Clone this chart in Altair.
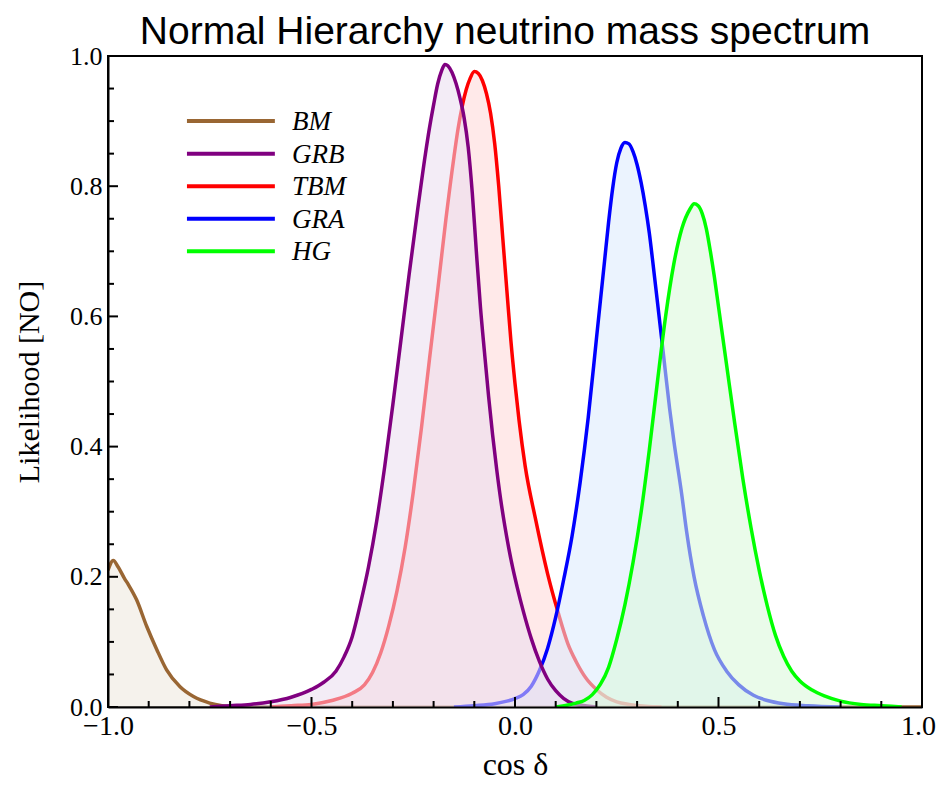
import altair as alt
import pandas as pd

# ---------------- data ----------------
names = ["BM", "GRB", "TBM", "GRA", "HG"]
line_colors = ["#996633", "#800080", "#ff0000", "#0000ff", "#00ff00"]
fill_colors = ["#ede7dd", "#e9dcef", "#ffd7d7", "#dbe9fd", "#d9f8d9"]

bm_x = [-1.0, -0.987, -0.975, -0.96, -0.95, -0.93, -0.905, -0.88, -0.856, -0.823,
        -0.79, -0.75, -0.72, -0.68, 1.0]
bm_y = [0.21, 0.225, 0.215, 0.198, 0.188, 0.165, 0.124, 0.088, 0.057, 0.031,
        0.016, 0.006, 0.002, 0.0, 0.0]

grb_x = [-0.75, -0.70, -0.65, -0.60, -0.55, -0.50, -0.47, -0.44, -0.42, -0.40,
         -0.38, -0.36, -0.34, -0.32, -0.30, -0.28, -0.26, -0.24, -0.22, -0.21,
         -0.20, -0.19, -0.18, -0.172, -0.165, -0.155, -0.145, -0.135, -0.125, -0.115,
         -0.105, -0.095, -0.085, -0.075, -0.065, -0.055, -0.045, -0.035, -0.025, -0.015,
         -0.005, 0.005, 0.02, 0.04, 0.06, 0.08, 0.10, 0.12, 0.14, 0.16, 0.20]
grb_y = [0.0, 0.002, 0.004, 0.008, 0.015, 0.027, 0.038, 0.055, 0.077, 0.108,
         0.158, 0.215, 0.285, 0.37, 0.465, 0.565, 0.665, 0.76, 0.85, 0.89,
         0.925, 0.957, 0.978, 0.987, 0.985, 0.975, 0.958, 0.935, 0.905, 0.86,
         0.79, 0.70, 0.615, 0.545, 0.478, 0.418, 0.365, 0.318, 0.278, 0.243,
         0.212, 0.185, 0.148, 0.105, 0.07, 0.043, 0.025, 0.013, 0.006, 0.003, 0.0]

tbm_x = [-0.60, -0.55, -0.50, -0.45, -0.40, -0.37, -0.35, -0.33, -0.31, -0.29,
         -0.27, -0.25, -0.23, -0.21, -0.19, -0.17, -0.15, -0.14, -0.13, -0.12,
         -0.11, -0.10, -0.09, -0.08, -0.07, -0.06, -0.05, -0.04, -0.03, -0.02,
         -0.01, 0.0, 0.01, 0.025, 0.05, 0.08, 0.106, 0.13, 0.15, 0.176,
         0.20, 0.225, 0.25, 0.28, 0.32, 0.36]
tbm_y = [0.0, 0.002, 0.004, 0.010, 0.021, 0.034, 0.053, 0.083, 0.125, 0.178,
         0.245, 0.33, 0.428, 0.535, 0.64, 0.748, 0.845, 0.888, 0.922, 0.948,
         0.966, 0.976, 0.973, 0.962, 0.942, 0.912, 0.866, 0.80, 0.72, 0.64,
         0.562, 0.497, 0.44, 0.37, 0.29, 0.205, 0.145, 0.097, 0.07, 0.043,
         0.027, 0.015, 0.008, 0.004, 0.001, 0.0]

gra_x = [-0.15, -0.10, -0.05, -0.02, 0.00, 0.02, 0.04, 0.06, 0.08, 0.10,
         0.12, 0.14, 0.16, 0.18, 0.20, 0.22, 0.23, 0.24, 0.25, 0.26,
         0.27, 0.28, 0.29, 0.30, 0.31, 0.32, 0.33, 0.34, 0.35, 0.365,
         0.38, 0.39, 0.41, 0.422, 0.44, 0.463, 0.49, 0.52, 0.55, 0.586,
         0.62, 0.66, 0.72, 0.80]
gra_y = [0.0, 0.002, 0.005, 0.009, 0.013, 0.019, 0.032, 0.056, 0.09, 0.138,
         0.197, 0.262, 0.345, 0.445, 0.565, 0.685, 0.745, 0.797, 0.836, 0.858,
         0.867, 0.865, 0.853, 0.833, 0.805, 0.77, 0.728, 0.676, 0.622, 0.54,
         0.458, 0.41, 0.325, 0.268, 0.20, 0.14, 0.088, 0.055, 0.034, 0.018,
         0.010, 0.005, 0.002, 0.0]

hg_x = [0.10, 0.13, 0.15, 0.17, 0.19, 0.21, 0.23, 0.25, 0.27, 0.29,
        0.31, 0.33, 0.35, 0.37, 0.39, 0.41, 0.43, 0.44, 0.45, 0.46,
        0.47, 0.48, 0.49, 0.50, 0.52, 0.54, 0.56, 0.58, 0.60, 0.62,
        0.64, 0.66, 0.68, 0.70, 0.73, 0.76, 0.80, 0.85, 0.90, 0.95]
hg_y = [0.0, 0.003, 0.006, 0.010, 0.019, 0.035, 0.061, 0.104, 0.157, 0.222,
        0.30, 0.395, 0.50, 0.60, 0.68, 0.735, 0.765, 0.773, 0.77, 0.758,
        0.735, 0.70, 0.66, 0.615, 0.525, 0.435, 0.35, 0.275, 0.21, 0.155,
        0.11, 0.078, 0.055, 0.04, 0.026, 0.017, 0.009, 0.004, 0.002, 0.0]

x_major = [-1.0, -0.5, 0.0, 0.5, 1.0]
x_minor = [-0.9, -0.8, -0.7, -0.6, -0.4, -0.3, -0.2, -0.1,
           0.1, 0.2, 0.3, 0.4, 0.6, 0.7, 0.8, 0.9]
y_major = [0.0, 0.2, 0.4, 0.6, 0.8, 1.0]
y_minor = [0.05, 0.1, 0.15, 0.25, 0.3, 0.35, 0.45, 0.5, 0.55,
           0.65, 0.7, 0.75, 0.85, 0.9, 0.95]

title_text = "Normal Hierarchy neutrino mass spectrum"
x_title = "cos δ"
y_title = "Likelihood [NO]"

# ---------------- chart ----------------
W, H = 814, 651
SERIF = "Liberation Serif"

x_scale = alt.Scale(domain=[-1, 1], nice=False, zero=False)
y_scale = alt.Scale(domain=[0, 1], nice=False)

x_axis = alt.Axis(values=x_major, format=".1f", title=x_title, ticks=False, tickSize=0,
                  grid=False, domainColor="black", domainWidth=2, labelFlush=False,
                  labelOffset={"condition": {"test": "datum.value >= 1", "value": -4},
                               "value": 0},
                  labelFont=SERIF, labelFontSize=28, labelPadding=5, labelColor="black",
                  titleFont=SERIF, titleFontSize=32, titleFontWeight="normal",
                  titleColor="black", titlePadding=9, zindex=1)
y_axis = alt.Axis(values=y_major, format=".1f", title=y_title, ticks=False, tickSize=0,
                  grid=False, domainColor="black", domainWidth=2, labelFlush=False,
                  labelFont=SERIF, labelFontSize=26, labelPadding=6, labelColor="black",
                  titleFont=SERIF, titleFontSize=30, titleFontWeight="normal",
                  titleColor="black", titlePadding=25, zindex=1)


def X(field):
    return alt.X(field, type="quantitative", scale=x_scale, axis=x_axis)


def Y(field):
    return alt.Y(field, type="quantitative", scale=y_scale, axis=y_axis)


series = {
    "BM": (bm_x, bm_y),
    "GRB": (grb_x, grb_y),
    "TBM": (tbm_x, tbm_y),
    "GRA": (gra_x, gra_y),
    "HG": (hg_x, hg_y),
}
draw_order = ["BM", "TBM", "GRA", "GRB", "HG"]

layers = []
for nm in draw_order:
    xs, ys = series[nm]
    i = names.index(nm)
    df = pd.DataFrame({"x": xs, "y": ys})
    layers.append(
        alt.Chart(df).mark_area(interpolate="monotone", color=fill_colors[i],
                                opacity=0.553, clip=True)
        .encode(x=X("x"), y=Y("y"))
    )
    layers.append(
        alt.Chart(df).mark_line(interpolate="monotone", color=line_colors[i],
                                strokeWidth=3.5, clip=True)
        .encode(x=X("x"), y=Y("y"))
    )


# inward tick marks
def xticks(vals, length):
    return alt.Chart(pd.DataFrame({"v": vals})).mark_rule(color="black", strokeWidth=2).encode(
        x=X("v"), y=alt.value(H), y2=alt.value(H - length))


def yticks(vals, length):
    return alt.Chart(pd.DataFrame({"v": vals})).mark_rule(color="black", strokeWidth=2).encode(
        y=Y("v"), x=alt.value(0), x2=alt.value(length))


layers += [xticks(x_major, 10), xticks(x_minor, 6), yticks(y_major, 10), yticks(y_minor, 6)]

# legend inside the plot
leg = pd.DataFrame({"name": names, "row": list(range(len(names)))})
leg_base = alt.Chart(leg).transform_calculate(ly="0.9 - 0.05 * datum.row")
color_enc = alt.Color("name:N", scale=alt.Scale(domain=names, range=line_colors), legend=None)
layers.append(
    leg_base.mark_rule(strokeWidth=4).encode(
        x=alt.datum(-0.806), x2=alt.datum(-0.59), y=Y("ly"), color=color_enc)
)
layers.append(
    leg_base.mark_text(align="left", baseline="middle", font=SERIF, fontStyle="italic",
                       fontSize=27, color="black", dy=1).encode(
        x=alt.datum(-0.548), y=Y("ly"), text="name:N")
)

# title
layers.append(
    alt.Chart(pd.DataFrame({"t": [title_text]})).mark_text(
        font="Liberation Sans", fontSize=39, align="center", baseline="alphabetic", color="black")
    .encode(x=alt.value(397), y=alt.value(-12), text="t:N")
)

chart = alt.layer(*layers).properties(
    width=W, height=H,
    padding={"left": 100, "top": 48, "right": 15, "bottom": 75},
    autosize=alt.AutoSizeParams(type="none"),
).configure_view(stroke="black", strokeWidth=2)

chart.save("out.html", embed_options={"renderer": "svg", "actions": False})
